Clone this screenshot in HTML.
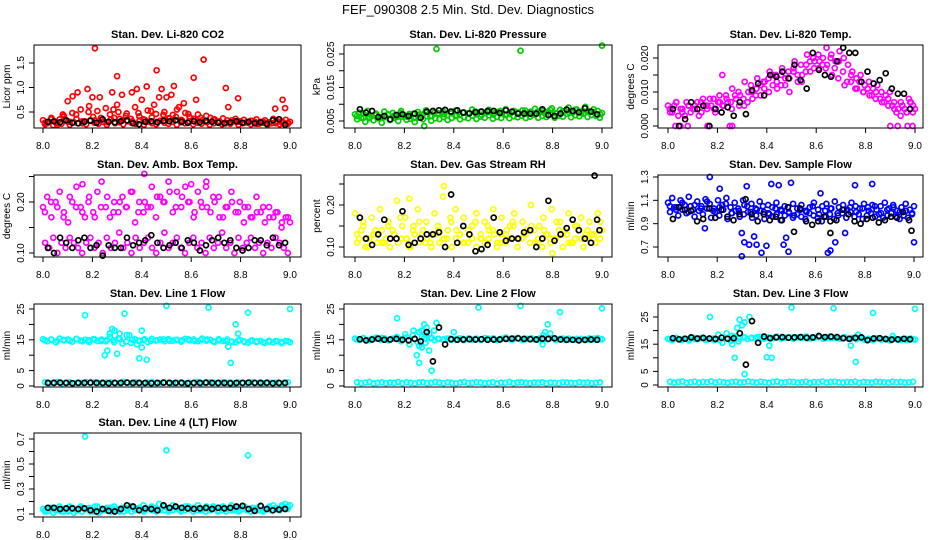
<!DOCTYPE html>
<html><head><meta charset="utf-8"><style>
html,body{margin:0;padding:0;background:#fff;}
svg{display:block;font-family:"Liberation Sans",Arial,sans-serif;}
</style></head><body>
<svg id="chart" width="936" height="540" viewBox="0 0 936 540">
<text x="468" y="14" text-anchor="middle" font-size="13">FEF_090308  2.5 Min. Std. Dev. Diagnostics</text>
</svg>
<script>
// ---------- data ----------
const xTicks=[8.0,8.2,8.4,8.6,8.8,9.0];
const xTickLabels=["8.0","8.2","8.4","8.6","8.8","9.0"];

const co2A=[0.33,0.27,0.38,0.29,0.35,0.42,0.30,0.48,0.36,0.55,0.31,0.62,0.40,0.52,0.34,0.58,0.45,0.38,0.50,0.33,0.47,0.36,0.60,0.41,0.35,0.53,0.39,0.46,0.32,0.50,0.37,0.44,0.55,0.34,0.48,0.40,0.36,0.45,0.33,0.42,0.38,0.35,0.30,0.37,0.33,0.29,0.36,0.31,0.34,0.28,0.32,0.35,0.30,0.33,0.28,0.36,0.31,0.29,0.34,0.30];
const co2B=[0.25,0.30,0.23,0.28,0.26,0.32,0.24,0.29,0.27,0.31,0.25,0.33,0.28,0.26,0.30,0.24,0.35,0.27,0.29,0.25,0.31,0.28,0.26,0.33,0.24,0.30,0.27,0.25,0.32,0.28,0.26,0.30,0.24,0.29,0.27,0.31,0.25,0.28,0.26,0.30,0.24,0.27,0.29,0.25,0.28,0.26,0.31,0.24,0.27,0.29,0.25,0.30,0.26,0.28,0.24,0.27,0.30,0.25,0.28,0.26];
const co2C=[0.28,0.35,0.24,0.40,0.30,0.45,0.27,0.50,0.33,0.38,0.29,0.55,0.36,0.42,0.31,0.48,0.34,0.52,0.30,0.44,0.37,0.40,0.32,0.46,0.35,0.38,0.29,0.34,0.31,0.27,0.33,0.30,0.28,0.32,0.26,0.30,0.29,0.27,0.31,0.28];
const co2OutX=[8.21,8.30,8.46,8.65,8.61,8.18,8.42,8.53,8.74,8.48,8.38,8.28,8.32,8.36,8.14,8.12,8.52,8.79,8.10,8.47,8.50,8.62,8.75,8.94,8.97,8.98,8.08,8.40,8.20,8.23,8.57,8.55,8.45,8.30];
const co2OutY=[1.80,1.23,1.35,1.57,1.20,0.97,1.02,1.03,0.99,0.97,0.97,0.90,0.85,0.90,0.90,0.82,0.85,0.78,0.72,0.80,0.80,0.75,0.60,0.57,0.75,0.58,0.45,0.75,0.80,0.80,0.68,0.60,0.65,0.65];
const co2K=[0.30,0.31,0.29,0.33,0.28,0.27,0.30,0.32,0.28,0.35,0.30,0.29,0.31,0.33,0.27,0.25,0.30,0.31,0.29,0.32,0.31,0.33,0.30,0.28,0.31,0.29,0.32,0.30,0.28,0.27,0.29,0.31,0.28,0.30,0.27,0.29,0.26,0.33,0.35,0.24];

const presA=[0.0070,0.0075,0.0060,0.0080,0.0065,0.0072,0.0058,0.0078,0.0068,0.0074,0.0062,0.0080,0.0066,0.0071,0.0059,0.0077,0.0069,0.0082,0.0064,0.0075,0.0070,0.0079,0.0067,0.0073,0.0081,0.0068,0.0076,0.0072,0.0084,0.0070,0.0078,0.0074,0.0083,0.0069,0.0077,0.0073,0.0085,0.0071,0.0080,0.0075,0.0082,0.0072,0.0078,0.0086,0.0074,0.0081,0.0077,0.0088,0.0073,0.0083,0.0079,0.0090,0.0075,0.0084,0.0078,0.0092,0.0076,0.0085,0.0080,0.0074];
const presB=[0.0055,0.0060,0.0048,0.0062,0.0052,0.0058,0.0045,0.0061,0.0053,0.0059,0.0050,0.0063,0.0054,0.0057,0.0047,0.0060,0.0055,0.0064,0.0051,0.0058,0.0056,0.0062,0.0053,0.0059,0.0065,0.0055,0.0061,0.0058,0.0066,0.0056,0.0063,0.0060,0.0067,0.0057,0.0062,0.0059,0.0068,0.0058,0.0064,0.0061,0.0066,0.0059,0.0063,0.0069,0.0060,0.0065,0.0062,0.0070,0.0060,0.0066,0.0063,0.0071,0.0061,0.0067,0.0064,0.0072,0.0062,0.0068,0.0065,0.0060];
const presC=[0.0065,0.0072,0.0058,0.0068,0.0062,0.0070,0.0066,0.0074,0.0063,0.0071,0.0069,0.0076,0.0065,0.0073,0.0070,0.0078,0.0067,0.0075,0.0072,0.0079,0.0069,0.0076,0.0073,0.0080,0.0070,0.0077,0.0074,0.0081,0.0071,0.0078,0.0075,0.0083,0.0072,0.0079,0.0076,0.0084,0.0073,0.0080,0.0077,0.0070];
const presOutX=[8.33,8.67,9.0,8.28];
const presOutY=[0.0265,0.0260,0.0275,0.0035];
const presK=[0.0085,0.0075,0.0080,0.0062,0.0065,0.0055,0.0068,0.0070,0.0065,0.0072,0.0060,0.0078,0.0080,0.0082,0.0083,0.0078,0.0082,0.0075,0.0073,0.0076,0.0078,0.0080,0.0080,0.0074,0.0082,0.0078,0.0072,0.0072,0.0072,0.0072,0.0085,0.0068,0.0065,0.0072,0.0084,0.0080,0.0076,0.0088,0.0078,0.0070];

const tempA=[0.006,0.004,0.007,0.005,0.003,0.006,0.005,0.007,0.004,0.006,0.008,0.005,0.007,0.006,0.008,0.007,0.009,0.006,0.008,0.007,0.010,0.009,0.012,0.011,0.014,0.012,0.013,0.015,0.012,0.014,0.016,0.013,0.015,0.018,0.016,0.019,0.017,0.020,0.018,0.021,0.019,0.022,0.020,0.018,0.016,0.014,0.015,0.012,0.013,0.011,0.012,0.010,0.009,0.010,0.007,0.005,0.006,0.004,0.007,0.005];
const tempB=[0.004,0.006,0.003,0.005,0.007,0.004,0.006,0.003,0.008,0.005,0.006,0.004,0.009,0.006,0.007,0.005,0.008,0.009,0.006,0.010,0.008,0.011,0.009,0.013,0.010,0.015,0.011,0.012,0.014,0.010,0.017,0.015,0.013,0.016,0.019,0.017,0.021,0.018,0.023,0.020,0.017,0.019,0.016,0.013,0.015,0.011,0.013,0.010,0.011,0.009,0.010,0.008,0.007,0.008,0.006,0.004,0.003,0.005,0.008,0.004];
const tempC=[0.005,0.007,0.004,0.006,0.005,0.007,0.006,0.008,0.007,0.009,0.011,0.010,0.013,0.012,0.014,0.013,0.016,0.015,0.017,0.016,0.019,0.018,0.021,0.020,0.019,0.017,0.015,0.014,0.012,0.013,0.011,0.010,0.009,0.008,0.007,0.006,0.005,0.007,0.004,0.006];
const tempOutX=[8.03,8.05,8.08,8.16,8.25,8.26,8.90,8.93,8.97,8.99,8.22,8.98];
const tempOutY=[0,0,0,0,0,0,0,0,0,0,0.015,0.007];
const tempK=[0.005,0.000,0.002,0.007,0.005,0.006,0.000,0.005,0.004,0.0055,0.003,0.007,0.0035,0.0105,0.0125,0.009,0.015,0.0145,0.016,0.014,0.018,0.0135,0.011,0.0215,0.0165,0.015,0.0145,0.019,0.023,0.0215,0.0215,0.013,0.016,0.0125,0.0135,0.0155,0.011,0.0095,0.0095,0.005];

const ambA=[0.19,0.21,0.17,0.20,0.22,0.18,0.16,0.20,0.23,0.19,0.17,0.21,0.18,0.22,0.24,0.19,0.17,0.20,0.18,0.21,0.19,0.22,0.16,0.20,0.18,0.19,0.23,0.17,0.21,0.20,0.24,0.18,0.22,0.19,0.23,0.20,0.17,0.22,0.19,0.24,0.18,0.20,0.21,0.17,0.19,0.22,0.18,0.20,0.16,0.19,0.17,0.21,0.18,0.16,0.19,0.17,0.18,0.15,0.17,0.16];
const ambB=[0.12,0.11,0.13,0.10,0.12,0.11,0.13,0.12,0.11,0.10,0.12,0.13,0.11,0.12,0.10,0.13,0.11,0.12,0.14,0.11,0.12,0.10,0.13,0.11,0.12,0.13,0.11,0.10,0.12,0.14,0.11,0.12,0.13,0.11,0.10,0.12,0.13,0.11,0.12,0.10,0.13,0.11,0.12,0.14,0.11,0.12,0.10,0.13,0.11,0.12,0.13,0.11,0.12,0.10,0.12,0.11,0.13,0.12,0.11,0.10];
const ambC=[0.18,0.20,0.19,0.17,0.21,0.19,0.18,0.20,0.17,0.19,0.21,0.18,0.20,0.19,0.22,0.18,0.20,0.19,0.21,0.20,0.22,0.19,0.21,0.20,0.18,0.20,0.19,0.21,0.17,0.19,0.20,0.18,0.19,0.17,0.18,0.19,0.17,0.18,0.16,0.17];
const ambOutX=[8.41,8.60,8.16,8.66];
const ambOutY=[0.255,0.235,0.235,0.23];
const ambK=[0.11,0.10,0.13,0.12,0.11,0.125,0.13,0.11,0.115,0.095,0.115,0.11,0.11,0.13,0.115,0.12,0.125,0.135,0.12,0.11,0.115,0.12,0.11,0.125,0.12,0.105,0.115,0.125,0.13,0.12,0.125,0.11,0.105,0.11,0.125,0.125,0.115,0.13,0.115,0.12];

const rhA=[0.18,0.12,0.15,0.10,0.17,0.13,0.19,0.11,0.16,0.14,0.21,0.12,0.17,0.10,0.15,0.19,0.13,0.16,0.11,0.18,0.14,0.22,0.12,0.16,0.19,0.13,0.17,0.11,0.15,0.18,0.12,0.16,0.14,0.19,0.11,0.17,0.13,0.15,0.18,0.12,0.16,0.14,0.20,0.11,0.15,0.17,0.13,0.19,0.12,0.16,0.14,0.18,0.11,0.15,0.17,0.13,0.16,0.12,0.18,0.14];
const rhB=[0.11,0.14,0.10,0.12,0.13,0.11,0.14,0.12,0.10,0.13,0.11,0.15,0.12,0.10,0.13,0.11,0.14,0.12,0.10,0.13,0.11,0.12,0.14,0.10,0.12,0.13,0.11,0.14,0.12,0.10,0.13,0.11,0.12,0.14,0.10,0.13,0.11,0.12,0.15,0.10,0.12,0.13,0.11,0.14,0.12,0.10,0.13,0.11,0.12,0.14,0.10,0.13,0.11,0.12,0.14,0.10,0.12,0.13,0.11,0.12];
const rhC=[0.13,0.16,0.12,0.14,0.11,0.15,0.13,0.17,0.12,0.14,0.16,0.11,0.13,0.15,0.12,0.17,0.14,0.11,0.13,0.16,0.12,0.15,0.13,0.11,0.14,0.16,0.12,0.13,0.15,0.11,0.14,0.12,0.16,0.13,0.11,0.15,0.12,0.14,0.13,0.16];
const rhOutX=[8.36,8.22,8.80];
const rhOutY=[0.245,0.215,0.085];
const rhK=[0.17,0.12,0.105,0.13,0.165,0.12,0.12,0.185,0.105,0.11,0.12,0.13,0.13,0.135,0.10,0.225,0.11,0.15,0.13,0.09,0.095,0.105,0.17,0.135,0.115,0.12,0.12,0.135,0.14,0.10,0.12,0.21,0.115,0.13,0.145,0.165,0.14,0.12,0.11,0.165];
const rhKOutX=[8.97,8.99];
const rhKOutY=[0.27,0.14];

const flowA=[1.08,1.12,1.04,1.10,1.06,1.13,1.02,1.09,1.05,1.11,1.07,1.03,1.10,1.06,1.12,1.04,1.08,1.01,1.10,1.05,1.07,1.03,1.09,1.00,1.06,1.04,1.08,1.02,1.05,0.99,1.07,1.03,1.06,1.01,1.04,1.08,1.02,1.05,1.07,1.03,1.09,1.04,1.06,1.02,1.08,1.05,1.03,1.07,1.04,1.06,1.02,1.05,1.08,1.03,1.06,1.01,1.04,1.07,1.02,1.05];
const flowB=[1.00,1.04,0.97,1.02,0.99,1.05,0.96,1.01,0.98,1.03,0.95,1.00,0.97,1.02,0.94,0.99,1.01,0.96,0.98,1.00,0.95,0.97,1.01,0.94,0.99,0.96,0.98,0.93,0.97,1.00,0.95,0.98,0.96,0.94,0.99,0.97,0.95,0.92,0.96,0.98,0.94,0.97,0.99,0.95,1.00,0.96,0.98,0.94,0.97,0.99,0.96,0.98,0.95,0.97,0.99,0.96,0.94,0.97,0.95,0.98];
const flowC=[1.05,1.02,1.08,1.00,1.06,1.03,1.09,1.01,1.04,1.07,0.99,1.03,1.06,1.00,1.02,1.05,0.98,1.03,1.01,1.04,0.97,1.02,1.00,1.05,0.98,1.01,1.03,0.99,1.02,1.04,1.00,1.03,1.01,1.05,0.99,1.02,1.04,1.00,1.01,0.99];
const flowOutX=[8.17,8.21,8.42,8.50,8.45,8.83,8.76,8.30,8.31,8.33,8.36,8.38,8.35,8.40,8.47,8.49,8.48,8.65,8.66,8.68,8.72,9.00,8.30,8.15,8.62,8.32];
const flowOutY=[1.30,1.20,1.24,1.25,1.23,1.24,1.23,0.62,0.74,0.72,0.72,0.65,0.79,0.71,0.72,0.66,0.78,0.65,0.67,0.74,0.82,0.74,0.82,0.86,1.16,1.22];
const flowK=[0.94,1.04,1.02,1.01,0.92,0.94,1.03,0.95,1.02,0.96,0.93,0.98,1.11,0.98,0.92,0.98,0.93,0.96,0.93,1.04,0.83,1.03,0.92,0.89,0.92,0.96,0.92,0.93,1.02,0.98,0.92,0.90,0.94,0.95,0.91,0.93,0.96,0.95,1.00,0.93];
const flowKOutX=[8.99,8.66];
const flowKOutY=[0.84,0.82];

const l1A=[15.2,14.5,15.0,14.2,15.4,14.8,15.1,14.4,15.3,14.7,15.0,14.3,15.2,14.6,15.1,14.5,16.0,14.2,15.5,13.8,16.5,14.0,15.2,14.6,15.0,14.3,15.3,14.8,15.1,14.5,15.2,14.7,15.0,14.4,15.3,14.8,15.1,14.5,15.4,14.7,15.0,14.3,15.2,14.6,15.1,14.4,14.2,15.0,14.5,14.1,14.8,14.3,14.6,14.0,14.7,14.2,14.5,13.9,14.6,14.2];
const l1B=[1.2,0.9,1.1,1.3,0.8,1.0,1.2,0.9,1.1,1.0,1.3,0.9,1.2,1.0,0.8,1.1,1.2,0.9,1.0,1.3,1.1,0.9,1.2,1.0,0.8,1.1,1.3,0.9,1.0,1.2,1.1,0.9,1.0,1.2,0.8,1.1,1.0,1.3,0.9,1.1,1.2,1.0,0.9,1.1,1.0,1.2,0.8,1.1,1.0,0.9,1.2,1.1,1.0,0.9,1.2,1.0,1.1,0.9,1.0,1.2];
const l1C=[14.8,15.1,14.6,15.0,14.7,15.2,14.5,14.9,15.1,14.6,15.0,14.8,15.3,14.4,15.0,14.7,15.2,14.6,14.9,15.1,14.7,15.0,14.8,15.2,14.6,14.9,15.1,14.5,14.8,14.6,14.4,14.7,14.3,14.6,14.5,14.2,14.4,14.6,14.3,14.5];
const l1OutX=[8.17,8.33,8.50,8.67,8.83,9.00,8.78,8.27,8.28,8.29,8.31,8.35,8.26,8.25,8.30,8.40,8.40,8.39,8.42,8.76,8.75,8.79,8.38];
const l1OutY=[23,23.5,26,25.5,23.8,25,20,17,18.5,18,17,16.5,11.5,10,10.5,18,12.5,9,8.5,7.5,12.8,17,13.5];
const l1K=[1.0,1.0,1.1,1.0,0.9,1.0,1.0,1.1,1.0,1.0,0.9,1.0,1.0,1.1,1.0,1.0,1.0,0.9,1.0,1.1,1.0,1.0,1.0,0.9,1.0,1.0,1.1,1.0,1.0,1.0,0.9,1.0,1.0,1.1,1.0,1.0,1.0,0.9,1.0,1.0];

const l2A=[15.4,15.0,15.6,14.9,15.3,15.7,15.1,15.5,14.8,15.4,15.9,14.5,16.8,13.5,18.0,14.2,16.0,15.2,15.5,14.9,15.3,15.1,15.4,15.0,15.2,15.5,14.9,15.3,15.1,15.4,15.0,15.6,15.2,15.5,14.9,15.3,15.7,15.1,15.4,15.6,15.0,15.3,15.5,15.1,15.4,16.5,15.2,15.6,14.9,15.3,15.1,15.4,15.0,15.3,15.2,14.9,15.5,15.1,15.6,15.2];
const l2B=[1.2,0.9,1.1,1.3,0.8,1.0,1.2,0.9,1.1,1.0,1.3,0.9,1.2,1.0,0.8,1.1,1.2,0.9,1.0,1.3,1.1,0.9,1.2,1.0,0.8,1.1,1.3,0.9,1.0,1.2,1.1,0.9,1.0,1.2,0.8,1.1,1.0,1.3,0.9,1.1,1.2,1.0,0.9,1.1,1.0,1.2,0.8,1.1,1.0,0.9,1.2,1.1,1.0,0.9,1.2,1.0,1.1,0.9,1.0,1.2];
const l2C=[15.1,15.5,14.9,15.3,15.6,15.0,15.4,15.2,15.8,16.5,17.5,14.0,15.6,15.3,15.1,15.4,15.0,15.3,15.5,15.1,15.2,15.4,15.0,15.3,15.6,15.1,15.4,15.2,15.5,15.0,15.3,17.0,15.1,15.4,15.2,15.0,15.3,15.1,15.4,15.2];
const l2OutX=[8.17,8.50,8.67,8.83,9.00,8.27,8.28,8.29,8.30,8.26,8.25,8.26,8.30,8.31,8.32,8.33,8.40,8.78,8.77,8.76,8.28,8.27];
const l2OutY=[22,25.5,26,24,25.2,18,20,19,17,13,10,7.5,11.5,5,18,20.5,17.5,20,17.5,13.5,15.5,12.5];
const l2K=[15.2,14.8,15.1,15.4,15.0,15.1,15.3,15.0,14.8,15.3,14.5,17.5,8.0,19.0,13.5,15.2,15.0,15.1,15.2,15.1,15.2,15.0,15.1,15.1,15.3,15.4,15.5,15.3,15.2,15.1,15.4,15.3,15.5,15.1,15.0,15.0,14.8,15.0,15.1,15.0];

const l3A=[17.0,16.5,17.3,16.7,17.1,16.4,17.4,16.8,17.2,16.6,17.0,16.5,18.5,15.5,19.0,16.2,17.8,17.0,17.6,16.9,17.4,17.1,17.7,17.0,17.5,17.2,17.8,17.1,17.4,17.6,17.0,17.5,17.3,17.8,17.1,17.4,17.6,17.0,17.5,17.2,17.4,17.0,17.6,17.1,17.3,16.8,17.2,16.6,17.0,16.5,17.1,16.7,16.9,16.4,17.0,16.6,16.8,16.5,17.1,16.7];
const l3B=[1.2,0.9,1.1,1.3,0.8,1.0,1.2,0.9,1.1,1.0,1.3,0.9,1.2,1.0,0.8,1.1,1.2,0.9,1.0,1.3,1.1,0.9,1.2,1.0,0.8,1.1,1.3,0.9,1.0,1.2,1.1,0.9,1.0,1.2,0.8,1.1,1.0,1.3,0.9,1.1,1.2,1.0,0.9,1.1,1.0,1.2,0.8,1.1,1.0,0.9,1.2,1.1,1.0,0.9,1.2,1.0,1.1,0.9,1.0,1.2];
const l3C=[16.8,17.2,16.6,17.0,16.9,17.3,16.7,17.1,16.5,17.2,18.0,16.0,17.5,17.2,17.6,17.1,17.4,17.7,17.2,17.5,17.3,17.6,17.1,17.4,17.8,17.2,17.5,17.3,17.6,17.0,17.4,17.1,16.8,17.2,16.9,16.7,17.0,16.6,16.9,16.8];
const l3OutX=[8.17,8.50,8.67,8.83,9.00,8.28,8.29,8.30,8.31,8.33,8.27,8.31,8.40,8.42,8.76,8.74,8.26,8.41,8.77,8.91];
const l3OutY=[25,28.5,28.2,26.5,28,21,24,22,23,25,10,4,10.2,10,8.5,14.5,15,14.5,18.5,18];
const l3K=[17.2,16.8,17.0,17.5,17.1,17.3,17.1,16.9,17.4,17.0,17.2,19.0,7.5,23.5,15.5,17.8,17.2,17.5,17.6,17.4,17.5,17.6,17.4,17.5,18.0,17.6,17.8,17.6,17.2,17.0,17.3,17.5,16.5,17.1,17.2,16.9,16.7,16.8,17.0,16.8];

const l4A=[0.14,0.12,0.15,0.13,0.16,0.14,0.12,0.15,0.13,0.16,0.14,0.15,0.12,0.16,0.14,0.13,0.15,0.16,0.13,0.15,0.14,0.16,0.13,0.15,0.17,0.14,0.16,0.15,0.13,0.16,0.14,0.17,0.15,0.13,0.16,0.14,0.15,0.17,0.13,0.16,0.14,0.15,0.13,0.16,0.14,0.17,0.15,0.13,0.16,0.14,0.15,0.13,0.16,0.14,0.15,0.17,0.14,0.16,0.15,0.17];
const l4B=[0.12,0.14,0.11,0.13,0.12,0.14,0.13,0.11,0.13,0.12,0.14,0.12,0.13,0.11,0.13,0.14,0.12,0.13,0.14,0.12,0.13,0.12,0.14,0.13,0.12,0.14,0.13,0.12,0.14,0.13,0.12,0.13,0.14,0.12,0.13,0.14,0.12,0.13,0.14,0.12,0.13,0.14,0.12,0.13,0.12,0.14,0.13,0.12,0.14,0.13,0.12,0.14,0.13,0.12,0.14,0.13,0.14,0.13,0.15,0.14];
const l4C=[0.13,0.15,0.14,0.12,0.16,0.13,0.15,0.14,0.16,0.13,0.15,0.14,0.12,0.15,0.16,0.14,0.13,0.15,0.14,0.16,0.13,0.15,0.14,0.16,0.15,0.13,0.14,0.16,0.15,0.14,0.13,0.15,0.16,0.14,0.15,0.13,0.16,0.15,0.17,0.16];
const l4OutX=[8.17,8.50,8.83,8.47,8.98];
const l4OutY=[0.72,0.61,0.57,0.18,0.18];
const l4K=[0.15,0.15,0.14,0.145,0.145,0.14,0.145,0.13,0.12,0.14,0.125,0.12,0.14,0.17,0.16,0.13,0.145,0.14,0.13,0.17,0.15,0.16,0.15,0.145,0.14,0.145,0.15,0.14,0.15,0.145,0.15,0.16,0.165,0.14,0.125,0.165,0.14,0.13,0.135,0.14];

// ---------- layout ----------
const svg=document.getElementById('chart');
const NS='http://www.w3.org/2000/svg';
function mk(tag,attrs,parent){const e=document.createElementNS(NS,tag);for(const k in attrs)e.setAttribute(k,attrs[k]);(parent||svg).appendChild(e);return e;}

const panels=[
 {id:'co2',title:'Stan. Dev. Li-820 CO2',ylab:'Licor ppm',box:[34,45,301,128],x0:43,x1:290,yv:[0.5,1.5],yp:[112,63],yt:[0.5,1.0,1.5],yl:['0.5','1.0','1.5'],col:'#ff0000',A:co2A,B:co2B,C:co2C,ox:co2OutX,oy:co2OutY,K:co2K},
 {id:'pressure',title:'Stan. Dev. Li-820 Pressure',ylab:'kPa',box:[344,45,612,128],x0:355,x1:602,yv:[0.005,0.025],yp:[121,54],yt:[0.005,0.010,0.015,0.020,0.025],yl:['0.005','','0.015','','0.025'],col:'#00cc00',A:presA,B:presB,C:presC,ox:presOutX,oy:presOutY,K:presK},
 {id:'temp',title:'Stan. Dev. Li-820 Temp.',ylab:'degrees C',box:[658,45,923,128],x0:668,x1:915,yv:[0,0.02],yp:[126,58],yt:[0,0.005,0.010,0.015,0.020],yl:['0.000','','0.010','','0.020'],col:'#ff00ff',A:tempA,B:tempB,C:tempC,ox:tempOutX,oy:tempOutY,K:tempK},
 {id:'ambbox',title:'Stan. Dev. Amb. Box Temp.',ylab:'degrees C',box:[34,175,301,257],x0:43,x1:290,yv:[0.10,0.20],yp:[253,202],yt:[0.10,0.15,0.20,0.25],yl:['0.10','','0.20',''],col:'#ff00ff',A:ambA,B:ambB,C:ambC,ox:ambOutX,oy:ambOutY,K:ambK},
 {id:'rh',title:'Stan. Dev. Gas Stream RH',ylab:'percent',box:[344,175,612,257],x0:355,x1:602,yv:[0.10,0.20],yp:[247,205],yt:[0.10,0.15,0.20,0.25],yl:['0.10','','0.20',''],col:'#ffff00',A:rhA,B:rhB,C:rhC,ox:rhOutX,oy:rhOutY,K:rhK,kx:rhKOutX,ky:rhKOutY},
 {id:'sampleflow',title:'Stan. Dev. Sample Flow',ylab:'ml/min',box:[658,175,923,257],x0:668,x1:914,yv:[0.7,1.3],yp:[247,177],yt:[0.7,0.9,1.1,1.3],yl:['0.7','0.9','1.1','1.3'],col:'#0000ff',A:flowA,B:flowB,C:flowC,ox:flowOutX,oy:flowOutY,K:flowK,kx:flowKOutX,ky:flowKOutY},
 {id:'line1',title:'Stan. Dev. Line 1 Flow',ylab:'ml/min',box:[34,304,301,387],x0:43,x1:290,yv:[0,25],yp:[386,309],yt:[0,5,10,15,20,25],yl:['0','5','','15','','25'],col:'#00ffff',A:l1A,B:l1B,C:l1C,ox:l1OutX,oy:l1OutY,K:l1K},
 {id:'line2',title:'Stan. Dev. Line 2 Flow',ylab:'ml/min',box:[344,304,612,387],x0:355,x1:602,yv:[0,25],yp:[386,309],yt:[0,5,10,15,20,25],yl:['0','5','','15','','25'],col:'#00ffff',A:l2A,B:l2B,C:l2C,ox:l2OutX,oy:l2OutY,K:l2K},
 {id:'line3',title:'Stan. Dev. Line 3 Flow',ylab:'ml/min',box:[658,304,923,387],x0:668,x1:915,yv:[0,25],yp:[385,317],yt:[0,5,10,15,20,25],yl:['0','5','','15','','25'],col:'#00ffff',A:l3A,B:l3B,C:l3C,ox:l3OutX,oy:l3OutY,K:l3K},
 {id:'line4',title:'Stan. Dev. Line 4 (LT) Flow',ylab:'ml/min',box:[34,433,301,517],x0:43,x1:290,yv:[0.1,0.7],yp:[514,439],yt:[0.1,0.2,0.3,0.4,0.5,0.6,0.7],yl:['0.1','','0.3','','0.5','','0.7'],col:'#00ffff',A:l4A,B:l4B,C:l4C,ox:l4OutX,oy:l4OutY,K:l4K}
];

function drawPanel(p){
  const g=mk('g',{});
  
  
  const [L,T,R,Bm]=p.box;
  const xs=v=>p.x0+(v-8)*(p.x1-p.x0);
  const ys=v=>p.yp[0]+(v-p.yv[0])*(p.yp[1]-p.yp[0])/(p.yv[1]-p.yv[0]);
  const idxX=(i,n)=>8+i/(n-1);
  const pts=mk('g',{fill:'none','stroke-width':'1.7'},g);
  
  
  function dot(x,y,c){
    const ci=mk('circle',{cx:xs(x).toFixed(1),cy:ys(y).toFixed(1),r:'2.5',stroke:c},pts);
    
    
  }
  p.A.forEach((v,i)=>dot(idxX(i,p.A.length),v,p.col));
  p.B.forEach((v,i)=>dot(idxX(i+0.5,p.B.length+1),v,p.col));
  p.C.forEach((v,i)=>dot(idxX(i+0.3,p.C.length+0.6),v,p.col));
  p.ox.forEach((x,i)=>dot(x,p.oy[i],p.col));
  p.K.forEach((v,i)=>dot(8.02+i*0.96/(p.K.length-1),v,'#000'));
  if(p.kx) p.kx.forEach((x,i)=>dot(x,p.ky[i],'#000'));
  const box=mk('rect',{x:L,y:T,width:R-L,height:Bm-T,fill:'none',stroke:'#000','stroke-width':'1'},g);
  
  
  const t=mk('text',{x:(L+R)/2,y:T-7,'text-anchor':'middle','font-size':'11','font-weight':'bold'},g);
  t.textContent=p.title;
  
  
  xTicks.forEach((v,i)=>{
    const x=xs(v);
    mk('line',{x1:x,x2:x,y1:Bm,y2:Bm+5,stroke:'#000'},g);
    const tl=mk('text',{x:x,y:Bm+21,'text-anchor':'middle','font-size':'10'},g);
    tl.textContent=xTickLabels[i];
    
    
  });
  p.yt.forEach((v,i)=>{
    const y=ys(v);
    mk('line',{x1:L-5,x2:L,y1:y,y2:y,stroke:'#000'},g);
    if(p.yl[i]){
      const tl=mk('text',{x:L-10,y:y,'text-anchor':'middle','font-size':'10',transform:`rotate(-90 ${L-10} ${y})`},g);
      tl.textContent=p.yl[i];
      
      
    }
  });
  const cy=(T+Bm)/2;
  const yl=mk('text',{x:L-24,y:cy,'text-anchor':'middle','font-size':'10',transform:`rotate(-90 ${L-24} ${cy})`},g);
  yl.textContent=p.ylab;
  
  
}
panels.forEach(drawPanel);
</script>
</body></html>
